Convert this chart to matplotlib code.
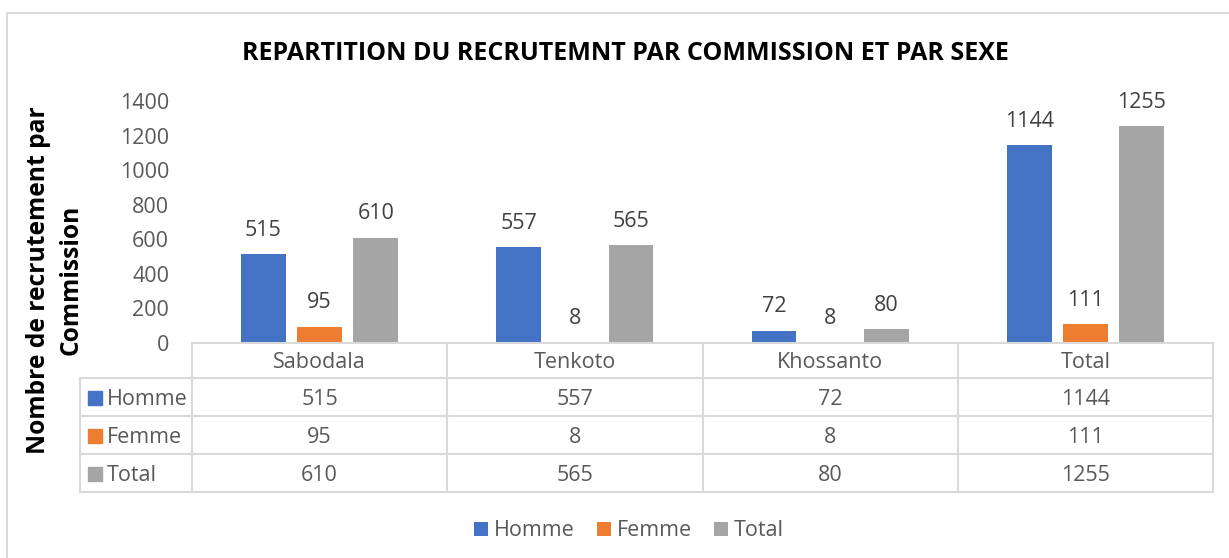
import numpy as np
import matplotlib.pyplot as plt
from matplotlib.patches import Patch, Rectangle

plt.rcParams['font.family'] = ['Open Sans', 'DejaVu Sans']

communes = ['Sabodala', 'Tenkoto', 'Khossanto', 'Total']
series = ['Homme', 'Femme', 'Total']
homme = [515, 557, 72, 1144]
femme = [95, 8, 8, 111]
total = [610, 565, 80, 1255]
couleurs = ['#4472C4', '#ED7D31', '#A5A5A5']
yticks = [0, 200, 400, 600, 800, 1000, 1200, 1400]

W, H = 1229, 558
gris = '#595959'
trait = '#D9D9D9'
fs = 15.5


def fx(px):
    return px / W


def fy(py):
    return 1 - py / H


fig = plt.figure(figsize=(W / 100, H / 100), dpi=100)

# cadre du graphique
fig.add_artist(Rectangle((fx(7), fy(600)), fx(1300), fy(13) - fy(600),
                         transform=fig.transFigure, fill=False,
                         edgecolor=trait, lw=1.5))

# axe des barres
x0, x1 = 192, 1213
ax = fig.add_axes([fx(x0), fy(343), fx(x1 - x0), fy(101) - fy(343)])
x = np.arange(len(communes))
larg = 0.176
pas = 0.22
valeurs = [homme, femme, total]
for i, (nom, v, c) in enumerate(zip(series, valeurs, couleurs)):
    pos = x + (i - 1) * pas
    ax.bar(pos, v, larg, color=c, label=nom)
    for xp, val in zip(pos, v):
        ax.annotate(str(val), (xp, val), xytext=(0, 17), textcoords='offset points',
                    ha='center', va='center', fontsize=fs, color='#404040')
ax.set_xlim(-0.5, len(communes) - 0.5)
ax.set_ylim(0, 1400)
ax.set_yticks(yticks)
ax.tick_params(axis='y', length=0, pad=16.5, labelsize=fs, labelcolor=gris)
ax.set_xticks([])
for s in ax.spines.values():
    s.set_visible(False)

# tableau de données (coordonnées en pixels)
lignes = [343, 378, 416, 454, 492]
bords = np.linspace(x0, x1, len(communes) + 1)
gauche = 80
ax_t = fig.add_axes([fx(gauche), fy(492), fx(x1 - gauche), fy(343) - fy(492)])
ax_t.set_xlim(gauche, x1)
ax_t.set_ylim(492, 343)
ax_t.axis('off')
kw = dict(color=trait, lw=1.5, clip_on=False)
for b in bords:
    ax_t.plot([b, b], [lignes[0], lignes[-1]], **kw)
ax_t.plot([x0, x1], [lignes[0], lignes[0]], **kw)
for yl in lignes[1:]:
    ax_t.plot([gauche, x1], [yl, yl], **kw)
ax_t.plot([gauche, gauche], [lignes[1], lignes[-1]], **kw)

centres = (bords[:-1] + bords[1:]) / 2
ym = [(a + b) / 2 for a, b in zip(lignes[:-1], lignes[1:])]
dy = 2.5  # décalage vertical du texte
for cx, nom in zip(centres, communes):
    ax_t.text(cx, ym[0] + dy, nom, ha='center', va='center', fontsize=fs, color=gris)
for r, (nom, v, c) in enumerate(zip(series, valeurs, couleurs)):
    yr = ym[r + 1]
    ax_t.add_patch(Rectangle((88, yr - 6), 14, 14, color=c, clip_on=False))
    ax_t.text(107, yr + dy, nom, ha='left', va='center', fontsize=fs, color=gris)
    for cx, val in zip(centres, v):
        ax_t.text(cx, yr + dy, str(val), ha='center', va='center', fontsize=fs, color=gris)

# titres
fig.text(fx(625), fy(53), 'REPARTITION DU RECRUTEMNT PAR COMMISSION ET PAR SEXE',
         ha='center', va='center', fontsize=18, fontweight='bold', color='black')
fig.text(fx(55), fy(280), 'Nombre de recrutement par\nCommission', rotation=90,
         ha='center', va='center', fontsize=17.7, fontweight='bold', color='black',
         linespacing=1.4)

# légende
poignees = [Patch(facecolor=c, label=n) for n, c in zip(series, couleurs)]
fig.legend(handles=poignees, loc='center', bbox_to_anchor=(fx(629), fy(531)),
           ncol=3, frameon=False, fontsize=fs, handlelength=0.65,
           handleheight=0.65, handletextpad=0.3, columnspacing=1.0,
           labelcolor=gris)

fig.savefig('out.png', dpi=100)
